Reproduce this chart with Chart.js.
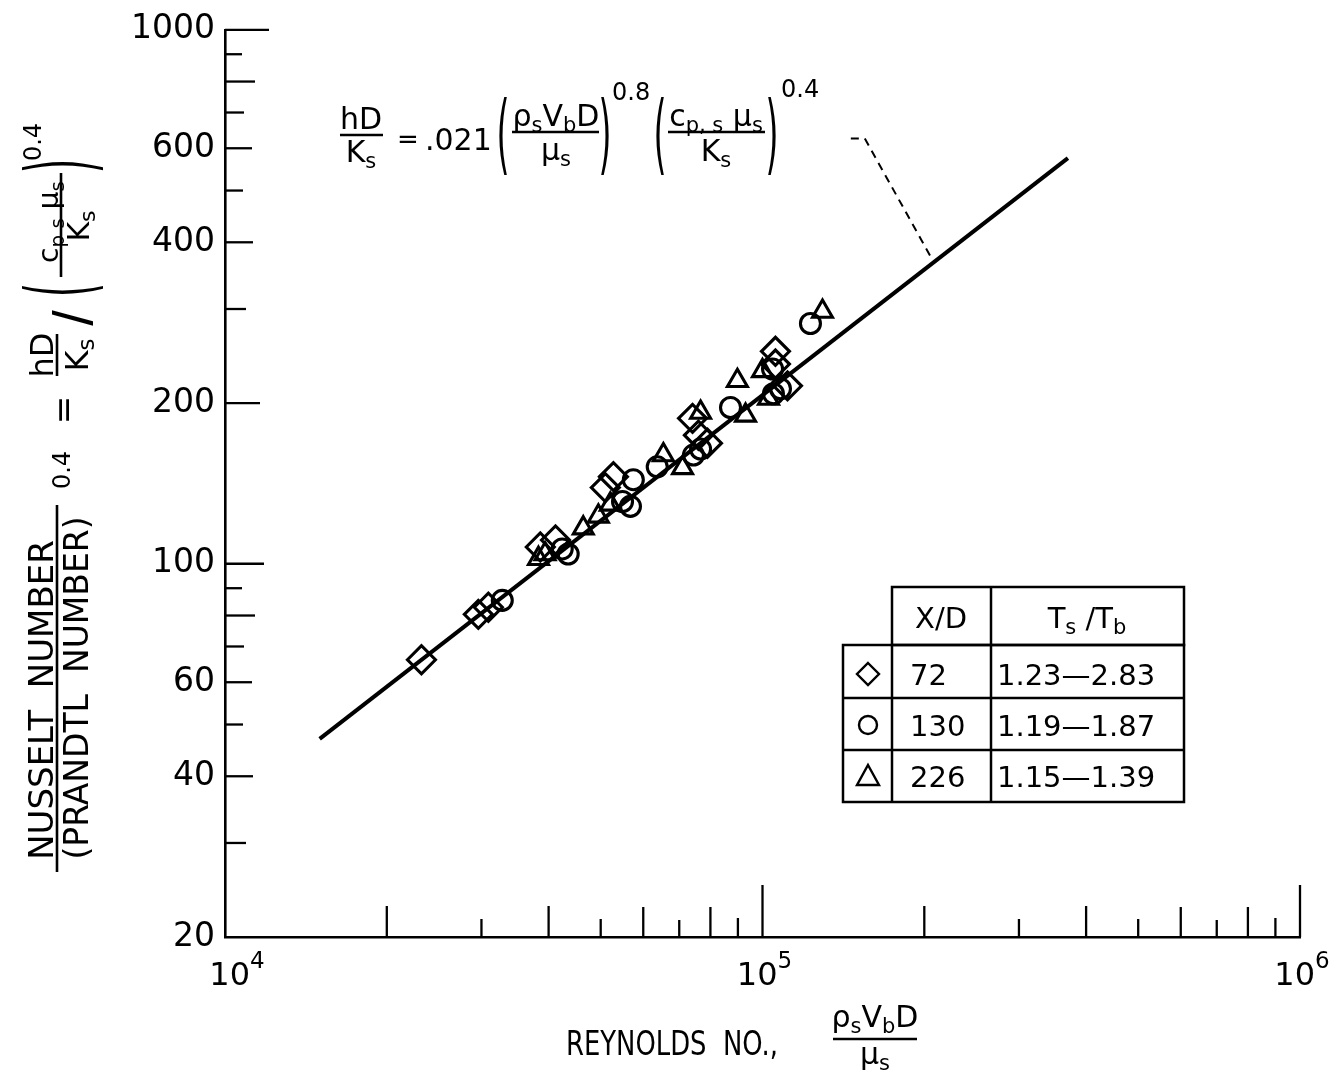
<!DOCTYPE html>
<html><head><meta charset="utf-8">
<script src="https://cdn.jsdelivr.net/npm/chart.js@4.4.0/dist/chart.umd.min.js"></script>
<style>html,body{margin:0;padding:0;background:#fff;}#wrap{width:1335px;height:1077px;}</style>
</head><body><div id="wrap"><canvas id="c" width="1335" height="1077"></canvas></div>
<script>
// ---------- data ----------
const xTickValues = [20000,30000,40000,50000,60000,70000,80000,90000,100000,200000,300000,400000,500000,600000,700000,800000,900000,1000000];
const xLabelValues = [10000, 100000, 1000000];
const xLabelBase = ['10','10','10'];
const xLabelExp = ['4','5','6'];
const yTickValues = [20,30,40,50,60,70,80,90,100,200,300,400,500,600,700,800,900,1000];
const yLabelValues = [20,40,60,100,200,400,600,1000];

// X/D = 72 (diamonds)
const diamondX = [23200, 29600, 30900, 38600, 41200, 51000, 52800, 74100, 76000, 79000, 105700, 105700, 111300];
const diamondY = [66.1, 80.4, 82.9, 107.5, 110.8, 138.9, 145.6, 187.2, 174.1, 168.2, 250, 236.6, 215.4];
// X/D = 130 (circles)
const circleX = [32800, 42400, 43500, 57500, 54900, 56800, 63700, 74400, 76700, 87200, 104800, 108000, 122800, 104400];
const circleY = [85.4, 106.6, 104.3, 143.7, 130.8, 128.1, 151.9, 159.8, 164.0, 196.2, 208.2, 212.7, 281.8, 231.6];
// X/D = 226 (triangles)
const triX = [38300, 39400, 46400, 49500, 52100, 65400, 71000, 76700, 89800, 93000, 102600, 100000, 129300];
const triY = [102.2, 104.3, 116.6, 122.7, 129.2, 159.8, 151.2, 192.0, 220.1, 189.6, 203.9, 229.7, 296.7];
// correlation line
const fitX = [15000, 370000];
const fitY = [47, 575];
// dashed leader from equation to line
const leaderX = [146000, 155000, 207300];
const leaderY = [626, 626, 370];

const legendXD = ['72','130','226'];
const legendTsTb = ['1.23\u20142.83','1.19\u20141.87','1.15\u20141.39'];

// ---------- style ----------
const FAM = '"DejaVu Sans", sans-serif';
const X_TICK_LEN = {1:52, 2:31, 3:18, 4:31, 5:18, 6:30, 7:17, 8:30, 9:19};
const Y_TICK_LEN = {1:39, 2:35, 3:21, 4:28, 5:18, 6:27, 7:19, 8:30, 9:17};

const pts = (xs, ys) => xs.map((x,i)=>({x, y: ys[i]}));
const f = (s, fam) => `${s}px ${fam || FAM}`;

function runsWidth(ctx, runs){
  let w = 0;
  for (const r of runs){ ctx.font = f(r.s, r.fam); const mw = ctx.measureText(r.t).width; w += r.mw ? Math.min(r.mw, mw) : mw; }
  return w;
}
function drawRuns(ctx, runs, x, y, align){
  const w = runsWidth(ctx, runs);
  let cx = align === 'center' ? x - w/2 : (align === 'right' ? x - w : x);
  ctx.textAlign = 'left'; ctx.textBaseline = 'alphabetic';
  for (const r of runs){
    ctx.font = f(r.s, r.fam);
    let rw = ctx.measureText(r.t).width;
    if (r.mw && rw > r.mw){ ctx.fillText(r.t, cx, y + (r.dy||0), r.mw); rw = r.mw; }
    else ctx.fillText(r.t, cx, y + (r.dy||0));
    cx += rw;
  }
}
// rotated (reading upward): screen baseline x = X, centre along = Y
function drawRunsRot(ctx, runs, X, Y, align){
  ctx.save(); ctx.rotate(-Math.PI/2);
  drawRuns(ctx, runs, -Y, X, align || 'center');
  ctx.restore();
}
function line(ctx, x1, y1, x2, y2, w){
  ctx.lineWidth = w; ctx.beginPath(); ctx.moveTo(x1,y1); ctx.lineTo(x2,y2); ctx.stroke();
}
const sub = (t, s) => ({t, s, dy: Math.round(s*0.28)});

const decor = {
  id: 'decor',
  afterDraw(chart){
    const ctx = chart.ctx, xs = chart.scales.x, ys = chart.scales.y;
    const ca = chart.chartArea;
    ctx.save();
    ctx.strokeStyle = '#000'; ctx.fillStyle = '#000'; ctx.lineCap = 'butt';
    // ticks x (inward)
    xTickValues.forEach(v => {
      const px = xs.getPixelForValue(v);
      const m = Math.round(v / Math.pow(10, Math.floor(Math.log10(v) + 1e-9)));
      line(ctx, px, ca.bottom, px, ca.bottom - X_TICK_LEN[m], 2.3);
    });
    // ticks y (inward)
    yTickValues.forEach(v => {
      if (v === 20) return;
      const py = ys.getPixelForValue(v);
      const m = Math.round(v / Math.pow(10, Math.floor(Math.log10(v) + 1e-9)));
      const len = v === 1000 ? 44 : Y_TICK_LEN[m];
      line(ctx, ca.left, py, ca.left + len, py, 2.3);
    });
    // x tick labels with superscript
    xLabelValues.forEach((v, i) => {
      const px = xs.getPixelForValue(v) + (i === 0 ? 12 : 2);
      ctx.font = f(32); const wb = ctx.measureText(xLabelBase[i]).width;
      ctx.font = f(23); const we = ctx.measureText(xLabelExp[i]).width;
      const x0 = px - (wb + we)/2;
      ctx.textAlign = 'left'; ctx.textBaseline = 'alphabetic';
      ctx.font = f(32); ctx.fillText(xLabelBase[i], x0, 985);
      ctx.font = f(23); ctx.fillText(xLabelExp[i], x0 + wb, 968);
    });

    // ---- x axis title ----
    drawRuns(ctx, [{t:'REYNOLDS  NO.,', s:34, mw:212}], 566, 1055, 'left');
    drawRuns(ctx, [{t:'\u03c1', s:30}, sub('s',21), {t:'V', s:30}, sub('b',21), {t:'D', s:30}], 875, 1027, 'center');
    line(ctx, 833, 1039, 917, 1039, 2.6);
    drawRuns(ctx, [{t:'\u03bc', s:30}, sub('s',21)], 875, 1064, 'center');

    // ---- y axis title (rotated) ----
    drawRunsRot(ctx, [{t:'NUSSELT  NUMBER', s:34, mw:330}], 53, 700);
    line(ctx, 57, 505, 57, 872, 2.6);
    drawRunsRot(ctx, [{t:'(PRANDTL  NUMBER)', s:33, mw:366}], 88, 688);
    drawRunsRot(ctx, [{t:'0.4', s:24}], 70, 470);
    drawRunsRot(ctx, [{t:'=', s:34}], 75, 410);
    drawRunsRot(ctx, [{t:'hD', s:32}], 53, 355);
    line(ctx, 57, 334, 57, 376, 2.6);
    drawRunsRot(ctx, [{t:'K', s:32}, sub('s',23)], 88, 355);
    drawRunsRot(ctx, [{t:'/', s:56, fam:'"Liberation Sans", sans-serif'}], 92, 318);
    drawRunsRot(ctx, [{t:'(', s:90, mw:14}], 91, 290);
    drawRunsRot(ctx, [{t:')', s:90, mw:14}], 91, 166);
    drawRunsRot(ctx, [{t:'c', s:28}, sub('p s',20), {t:' \u03bc', s:28}, sub('s',20)], 58, 222);
    line(ctx, 61, 173, 61, 277, 2.6);
    drawRunsRot(ctx, [{t:'K', s:30}, sub('s',22)], 89, 226);
    drawRunsRot(ctx, [{t:'0.4', s:24}], 41, 142);

    // ---- equation ----
    drawRuns(ctx, [{t:'hD', s:30}], 361, 129, 'center');
    line(ctx, 340, 135, 383, 135, 2.6);
    drawRuns(ctx, [{t:'K', s:30}, sub('s',21)], 361, 162, 'center');
    drawRuns(ctx, [{t:'=', s:26}], 408, 148, 'center');
    drawRuns(ctx, [{t:'.021', s:30}], 425, 150, 'left');
    drawRuns(ctx, [{t:'(', s:88, mw:13}], 503, 163, 'center');
    drawRuns(ctx, [{t:'\u03c1', s:30}, sub('s',21), {t:'V', s:30}, sub('b',21), {t:'D', s:30}], 556, 126, 'center');
    line(ctx, 512, 132, 599, 132, 2.6);
    drawRuns(ctx, [{t:'\u03bc', s:30}, sub('s',21)], 556, 160, 'center');
    drawRuns(ctx, [{t:')', s:88, mw:13}], 605, 163, 'center');
    drawRuns(ctx, [{t:'0.8', s:24}], 612, 100, 'left');
    drawRuns(ctx, [{t:'(', s:88, mw:13}], 660, 163, 'center');
    drawRuns(ctx, [{t:'c', s:30}, sub('p, s',21), {t:' \u03bc', s:30}, sub('s',21)], 716, 126, 'center');
    line(ctx, 668, 132, 765, 132, 2.6);
    drawRuns(ctx, [{t:'K', s:30}, sub('s',21)], 716, 161, 'center');
    drawRuns(ctx, [{t:')', s:88, mw:13}], 772, 163, 'center');
    drawRuns(ctx, [{t:'0.4', s:24}], 781, 97, 'left');

    // ---- legend table ----
    const L = 843, C1 = 892, C2 = 991, R = 1184, T = 587, H = 645, r1 = 698, r2 = 750, B = 802;
    ctx.lineWidth = 2.5;
    ctx.strokeRect(C1, T, R - C1, H - T);
    ctx.strokeRect(L, H, R - L, B - H);
    line(ctx, C2, T, C2, B, 2.5);
    line(ctx, C1, H, C1, B, 2.5);
    line(ctx, L, r1, R, r1, 2.5);
    line(ctx, L, r2, R, r2, 2.5);
    drawRuns(ctx, [{t:'X/D', s:29}], 941, 628, 'center');
    drawRuns(ctx, [{t:'T', s:29}, sub('s',21), {t:' /T', s:29}, sub('b',21)], 1087, 628, 'center');
    const rowBase = [685, 736, 787];
    const rowMid = [674, 725, 776];
    legendXD.forEach((t, i) => {
      drawRuns(ctx, [{t, s:29}], 910, rowBase[i], 'left');
      drawRuns(ctx, [{t:legendTsTb[i], s:29, mw:168}], 997, rowBase[i], 'left');
    });
    // legend symbols
    ctx.lineWidth = 2.4;
    let cx = 868, cy = rowMid[0];
    ctx.beginPath(); ctx.moveTo(cx, cy-11); ctx.lineTo(cx+11, cy); ctx.lineTo(cx, cy+11); ctx.lineTo(cx-11, cy); ctx.closePath(); ctx.stroke();
    cy = rowMid[1];
    ctx.beginPath(); ctx.arc(cx, cy, 9, 0, Math.PI*2); ctx.stroke();
    cy = rowMid[2];
    ctx.beginPath(); ctx.moveTo(cx, cy-11); ctx.lineTo(cx+11, cy+9); ctx.lineTo(cx-11, cy+9); ctx.closePath(); ctx.stroke();
    ctx.restore();
  }
};

const markerBase = { borderColor:'#000', backgroundColor:'rgba(0,0,0,0)', pointBorderWidth:3.1, pointBackgroundColor:'rgba(0,0,0,0)', pointBorderColor:'#000' };

new Chart(document.getElementById('c'), {
  type: 'scatter',
  data: { datasets: [
    { label:'fit', type:'line', data: pts(fitX, fitY), borderColor:'#000', borderWidth:4, pointRadius:0, fill:false, tension:0, showLine:true },
    { label:'leader', type:'line', data: pts(leaderX, leaderY), borderColor:'#000', borderWidth:2, borderDash:[8,6], pointRadius:0, fill:false, tension:0, showLine:true },
    Object.assign({ label:'X/D 72', data: pts(diamondX, diamondY), pointStyle:'rectRot', pointRadius:14 }, markerBase),
    Object.assign({ label:'X/D 130', data: pts(circleX, circleY), pointStyle:'circle', pointRadius:10 }, markerBase),
    Object.assign({ label:'X/D 226', data: pts(triX, triY), pointStyle:'triangle', pointRadius:11.5 }, markerBase)
  ]},
  options: {
    responsive:false, animation:false, devicePixelRatio:1,
    layout:{ padding:{ top:20, right:35, left:0, bottom:0 } },
    plugins:{ legend:{display:false}, tooltip:{enabled:false} },
    scales:{
      x:{ type:'logarithmic', min:1e4, max:1e6,
        grid:{display:false, drawTicks:false}, border:{display:true, color:'#000', width:2.6},
        ticks:{display:false},
        afterBuildTicks: s => { s.ticks = xTickValues.map(v => ({value:v})); },
        afterFit: s => { s.height = 140; } },
      y:{ type:'logarithmic', min:20, max:1000,
        grid:{display:false, drawTicks:false}, border:{display:true, color:'#000', width:2.6},
        ticks:{ display:true, autoSkip:false, color:'#000', padding:10, font:{family:'DejaVu Sans', size:33},
          callback: v => yLabelValues.includes(Math.round(v)) ? String(Math.round(v)) : '' },
        afterBuildTicks: s => { s.ticks = yTickValues.map(v => ({value:v})); },
        afterFit: s => { s.width = 225; } }
    }
  },
  plugins:[decor]
});
</script>
</body></html>
